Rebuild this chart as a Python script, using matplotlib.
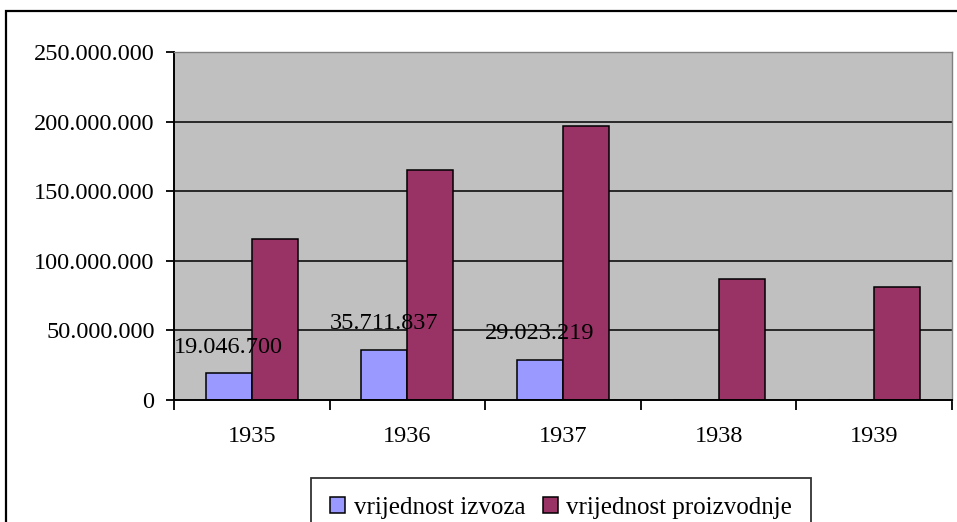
"""Vrijednost izvoza i proizvodnje 1935-1939, Excel-style bar chart."""

import matplotlib
matplotlib.use("Agg")
import matplotlib.pyplot as plt
import matplotlib.ticker as mticker
import numpy as np
from matplotlib.patches import Rectangle

years = ["1935", "1936", "1937", "1938", "1939"]
izvoz = [19046700, 35711837, 29023219, 0, 0]
proizvodnja = [115700000, 165000000, 196500000, 86900000, 81400000]
izvoz_labels = ["19.046.700", "35.711.837", "29.023.219", None, None]
y_ticks = [0, 50000000, 100000000, 150000000, 200000000, 250000000]

plt.rcParams["font.family"] = ["Liberation Serif", "DejaVu Serif"]
FS = 17.5


def dot_thousands(v, _pos=None):
    return f"{int(v):,}".replace(",", ".")


fig = plt.figure(figsize=(9.57, 5.22), dpi=100)
ax = fig.add_axes([174 / 957, 1 - 400 / 522, (952 - 174) / 957, (400 - 52) / 522])

# outer chart border (runs off the right and bottom of the picture)
fig.patches.append(Rectangle((6 / 957, -0.1), 1.2, 1.1 - 11 / 522,
                             transform=fig.transFigure, fill=False,
                             edgecolor="black", linewidth=1.6, zorder=0))

x = np.arange(len(years))
w = 0.295
ax.set_facecolor("#C0C0C0")
for y in y_ticks[1:]:
    ax.axhline(y, color="black", linewidth=1.1, zorder=1)

b1 = ax.bar(x - w / 2, izvoz, w, color="#9999FF", edgecolor="black",
            linewidth=1.1, label="vrijednost izvoza", zorder=2)
b2 = ax.bar(x + w / 2, proizvodnja, w, color="#993366", edgecolor="black",
            linewidth=1.1, label="vrijednost proizvodnje", zorder=2)

for xi, val, lab in zip(x, izvoz, izvoz_labels):
    if lab:
        ax.annotate(lab, (xi - w / 2, val), xytext=(0, 19), textcoords="offset points",
                    ha="center", va="center", fontsize=FS, zorder=3)

ax.set_xlim(-0.5, len(years) - 0.5)
ax.set_ylim(0, 250000000)
ax.set_yticks(y_ticks)
ax.yaxis.set_major_formatter(mticker.FuncFormatter(dot_thousands))
ax.set_xticks(np.arange(len(years) + 1) - 0.5)
ax.set_xticklabels([])
ax.set_xticks(x, minor=True)
ax.set_xticklabels(years, minor=True)
ax.tick_params(axis="x", which="major", length=7, width=1.3, direction="out")
ax.tick_params(axis="x", which="minor", length=0, pad=19, labelsize=FS)
ax.tick_params(axis="y", length=6, width=1.3, direction="out", pad=8, labelsize=FS)

for side in ("top", "right"):
    ax.spines[side].set_color("#808080")
    ax.spines[side].set_linewidth(1.0)
for side in ("left", "bottom"):
    ax.spines[side].set_color("black")
    ax.spines[side].set_linewidth(1.4)

leg = fig.legend(handles=[b1, b2], loc="upper center",
                 bbox_to_anchor=(561 / 957, 1 - 478 / 522), ncol=2,
                 fontsize=18, frameon=True, fancybox=False, edgecolor="black",
                 handlelength=0.6, handleheight=0.6, handletextpad=0.35,
                 columnspacing=0.7, borderpad=0.75, borderaxespad=0)
leg.get_frame().set_linewidth(1.3)

fig.savefig("out.png", dpi=100)
